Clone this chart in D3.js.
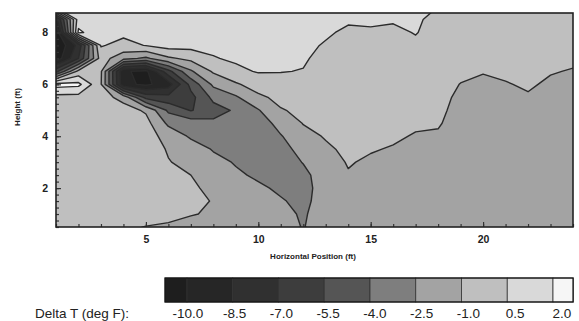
<!DOCTYPE html>
<html>
<head>
<meta charset="utf-8">
<script src="https://d3js.org/d3.v7.min.js"></script>
<style>
body { margin: 0; background: #fff; }
text { font-family: Arial, "Liberation Sans", sans-serif; fill: #222; }
</style>
</head>
<body>
<svg width="579" height="321"></svg>
<script>
// measurement grid (ft)
var xPos = [1,2,3,4,5,6,7,8,9,10,11,12,13,14,15,16,17,18,19,20,21,22,23,24];
var yPos = [9,8.5,8,7.5,7,6.5,6,5.5,5,4.5,4,3.5,3,2.5,2,1.5,1,0.5];

// Delta T (deg F), one row per height, top row first
var dT = [
  [1.5,1.2,1.2,1.2,1.1,1.1,1.0,1.0,1.0,1.0,1.0,1.0,1.0,0.9,0.9,0.9,0.8,0.5,0.2,0.2,0.2,0.2,0.2,0.2],
  [-9,1.3,1.2,1.1,1.0,1.1,1.0,1.0,1.0,1.0,1.0,0.9,0.9,0.65,0.7,0.6,0.65,0.2,0.1,0.1,0.1,0.1,0.1,0.1],
  [-11.5,2.3,1.0,0.8,0.8,1.1,1.0,0.9,1.0,0.9,0.9,0.8,0.65,0.3,0.35,0.3,0.55,0.1,0.0,0.0,0.0,0.0,0.0,-0.1],
  [-11.5,-8,0.6,0.1,0.55,1.1,1.0,0.8,0.9,0.8,0.8,0.75,0.4,0.1,0.1,0.1,0.3,0.0,-0.1,-0.1,-0.15,-0.1,-0.2,-0.3],
  [-11,-7,-0.3,-2.0,-2.8,-1.25,-0.6,0.42,0.7,0.7,0.7,0.65,0.1,0.0,0.0,0.0,0.0,-0.1,-0.3,-0.4,-0.4,-0.3,-0.5,-0.7],
  [-6,-0.5,-0.8,-9.8,-10.4,-6.0,-2.7,-0.8,0.2,0.6,0.55,0.45,-0.1,-0.1,-0.1,-0.1,-0.1,-0.2,-0.6,-0.92,-0.7,-0.5,-0.9,-1.1],
  [2.6,2.4,-0.9,-9.6,-10.3,-9.2,-5.0,-2.2,-1.2,-0.3,0.0,0.0,-0.2,-0.2,-0.2,-0.2,-0.2,-0.3,-1.05,-1.3,-1.1,-0.8,-1.25,-1.4],
  [0,-0.1,-0.4,-1.5,-6.0,-6.5,-6.0,-3.6,-2.7,-1.3,-0.6,-0.4,-0.3,-0.3,-0.3,-0.3,-0.3,-0.4,-1.4,-1.5,-1.4,-1.15,-1.5,-1.6],
  [-0.2,-0.3,-0.3,-0.4,-1.2,-4.3,-5.6,-4.6,-3.8,-2.6,-1.1,-0.7,-0.5,-0.4,-0.4,-0.4,-0.5,-0.6,-1.6,-1.65,-1.6,-1.4,-1.6,-1.7],
  [-0.3,-0.3,-0.3,-0.3,-0.5,-2.8,-3.2,-3.7,-3.5,-3.4,-1.9,-0.95,-0.7,-0.5,-0.5,-0.6,-0.8,-0.85,-1.7,-1.7,-1.7,-1.6,-1.7,-1.7],
  [-0.3,-0.3,-0.3,-0.3,-0.3,-1.6,-2.7,-3.2,-3.2,-3.5,-2.6,-1.4,-0.9,-0.6,-0.7,-0.8,-1.1,-1.2,-1.7,-1.7,-1.7,-1.7,-1.7,-1.7],
  [-0.3,-0.3,-0.3,-0.3,-0.4,-1.1,-1.8,-2.6,-2.9,-3.3,-3.0,-2.0,-1.2,-0.75,-0.9,-1.1,-1.4,-1.5,-1.7,-1.7,-1.7,-1.7,-1.7,-1.7],
  [-0.3,-0.3,-0.3,-0.3,-0.3,-0.95,-1.3,-2.1,-2.6,-3.0,-3.1,-2.45,-1.6,-0.9,-1.2,-1.4,-1.6,-1.7,-1.7,-1.7,-1.7,-1.7,-1.7,-1.7],
  [-0.3,-0.3,-0.3,-0.3,-0.3,-0.6,-1.0,-1.8,-2.3,-2.7,-3.0,-2.8,-1.9,-1.1,-1.5,-1.6,-1.7,-1.7,-1.7,-1.7,-1.7,-1.7,-1.7,-1.7],
  [-0.3,-0.3,-0.3,-0.3,-0.3,-0.5,-0.8,-1.3,-2.0,-2.3,-2.7,-2.9,-1.95,-1.4,-1.6,-1.7,-1.7,-1.7,-1.7,-1.7,-1.7,-1.7,-1.7,-1.7],
  [-0.3,-0.3,-0.3,-0.3,-0.3,-0.4,-0.6,-1.08,-1.7,-2.0,-2.4,-2.8,-1.95,-1.6,-1.7,-1.7,-1.7,-1.7,-1.7,-1.7,-1.7,-1.7,-1.7,-1.7],
  [-0.3,-0.3,-0.3,-0.4,-0.3,-0.6,-0.95,-1.1,-1.5,-1.8,-2.2,-2.63,-1.95,-1.7,-1.7,-1.7,-1.7,-1.7,-1.7,-1.7,-1.7,-1.7,-1.7,-1.7],
  [-0.3,-0.4,-0.4,-0.7,-1.05,-1.2,-1.3,-1.4,-1.5,-1.7,-2.1,-2.55,-1.95,-1.7,-1.7,-1.7,-1.7,-1.7,-1.7,-1.7,-1.7,-1.7,-1.7,-1.7]
];

var levels = [-10, -8.5, -7, -5.5, -4, -2.5, -1, 0.5, 2.0];
var levelLabels = ["-10.0","-8.5","-7.0","-5.5","-4.0","-2.5","-1.0","0.5","2.0"];
var shades = ["#1e1e1e","#262626","#303030","#3d3d3d","#555555","#7e7e7e","#a3a3a3","#bfbfbf","#d9d9d9","#f6f6f6"];
var barEnds = [-10.72, 2.66];
var xMajor = [5, 10, 15, 20];
var yMajor = [2, 4, 6, 8];

var svg = d3.select("svg");
var x = d3.scaleLinear().domain([1, 24]).range([56, 573]);
var y = d3.scaleLinear().domain([0.5, 8.75]).range([227, 13]);

svg.append("clipPath").attr("id", "plot")
  .append("rect")
  .attr("x", x(1)).attr("y", y(8.75))
  .attr("width", x(24) - x(1)).attr("height", y(0.5) - y(8.75));

// grid cell -> data coordinates
var dx = xPos[1] - xPos[0], dy = yPos[1] - yPos[0];
var proj = d3.geoTransform({
  point: function(cx, cy) {
    this.stream.point(x(xPos[0] + (cx - 0.5) * dx), y(yPos[0] + (cy - 0.5) * dy));
  }
});
var path = d3.geoPath(proj);

var values = dT.flat();
var contours = d3.contours().size([xPos.length, yPos.length]);

var plot = svg.append("g").attr("clip-path", "url(#plot)");

plot.selectAll("path.band")
  .data(contours.thresholds([-99].concat(levels))(values))
  .join("path")
  .attr("class", "band")
  .attr("d", path)
  .attr("fill", function(d, i) { return shades[i]; });

plot.selectAll("path.iso")
  .data(contours.thresholds(levels)(values))
  .join("path")
  .attr("class", "iso")
  .attr("d", path)
  .attr("fill", "none")
  .attr("stroke", "#2b2b2b")
  .attr("stroke-width", 1.4)
  .attr("stroke-linejoin", "round");

// axes, ticks point inward
var minorX = svg.append("g").attr("transform", "translate(0," + y(0.5) + ")")
  .call(d3.axisBottom(x).tickValues(xPos).tickSize(-3).tickFormat(""));
var majorX = svg.append("g").attr("transform", "translate(0," + y(0.5) + ")")
  .call(d3.axisBottom(x).tickValues(xMajor).tickSize(-5).tickPadding(9));
var minorY = svg.append("g").attr("transform", "translate(" + x(1) + ",0)")
  .call(d3.axisLeft(y).tickValues(d3.range(0.5, 8.76, 0.25)).tickSize(-3).tickFormat(""));
var majorY = svg.append("g").attr("transform", "translate(" + x(1) + ",0)")
  .call(d3.axisLeft(y).tickValues(yMajor).tickSize(-5).tickPadding(8));

[minorX, majorX, minorY, majorY].forEach(function(g) {
  g.select(".domain").remove();
  g.selectAll("line").attr("stroke", "#333").attr("stroke-width", 1.2);
  g.selectAll("text").attr("font-size", 10.5).attr("font-weight", "bold")
    .attr("font-family", "Arial, 'Liberation Sans', sans-serif").attr("fill", "#2a2a2a");
});

svg.append("rect")
  .attr("x", x(1)).attr("y", y(8.75))
  .attr("width", x(24) - x(1)).attr("height", y(0.5) - y(8.75))
  .attr("fill", "none").attr("stroke", "#222").attr("stroke-width", 1.6);

svg.append("text").text("Height (ft)")
  .attr("transform", "translate(20,107) rotate(-90)")
  .attr("text-anchor", "middle")
  .style("font-size", "8px").style("font-weight", "bold");

svg.append("text").text("Horizontal Position (ft)")
  .attr("x", 313).attr("y", 259)
  .attr("text-anchor", "middle")
  .style("font-size", "8px").style("font-weight", "bold");

// colour key
var bar = d3.scaleLinear().domain([-10, 2]).range([187, 553]);
var labelX = d3.scaleLinear().domain([-10, 2]).range([188, 562]);
var edges = [barEnds[0]].concat(levels, [barEnds[1]]);

svg.selectAll("rect.key")
  .data(shades)
  .join("rect")
  .attr("class", "key")
  .attr("x", function(d, i) { return bar(edges[i]); })
  .attr("y", 278)
  .attr("width", function(d, i) { return bar(edges[i + 1]) - bar(edges[i]); })
  .attr("height", 24)
  .attr("fill", function(d) { return d; })
  .attr("stroke", "#333").attr("stroke-width", 0.8);

svg.append("rect")
  .attr("x", bar(barEnds[0])).attr("y", 278)
  .attr("width", bar(barEnds[1]) - bar(barEnds[0])).attr("height", 24)
  .attr("fill", "none").attr("stroke", "#111").attr("stroke-width", 1.2);

svg.selectAll("text.klab")
  .data(levels)
  .join("text")
  .attr("class", "klab")
  .attr("x", function(d) { return labelX(d); })
  .attr("y", 318)
  .attr("text-anchor", "middle")
  .style("font-size", "13.5px")
  .text(function(d, i) { return levelLabels[i]; });

svg.append("text").text("Delta T (deg F):")
  .attr("x", 35).attr("y", 318)
  .style("font-size", "13.5px");
</script>
</body>
</html>
